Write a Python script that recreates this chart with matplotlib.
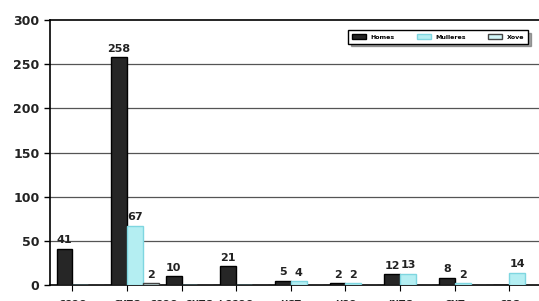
import numpy as np
import matplotlib
matplotlib.use("Agg")
import matplotlib.pyplot as plt

# groups along the x axis (labels are mostly cut off in the scan)
groups = ["CCOO", "CXTG", "CCOO+CXTG", "I.CCOO", "UGT", "USO", "INTG", "CNT", "CSG"]
homes = [41, 258, 10, 21, 5, 2, 12, 8, 0]
mulleres = [0, 67, 0, 0, 4, 2, 13, 2, 14]
xove = [0, 2, 0, 0, 0, 0, 0, 0, 0]
series_names = ["Homes", "Mulleres", "Xove"]
yticks = [0, 50, 100, 150, 200, 250, 300]

W = 0.29
colors = ["#262626", "#b4eef2", "#d2f5f7"]
edges = ["black", "#7fd6e0", "#444444"]

fig = plt.figure(figsize=(5.39, 3.01), dpi=100)
ax = fig.add_axes([50 / 539, 16 / 301, 550 / 539, 265 / 301])

x = np.arange(len(groups))
offsets = [-W / 2, W / 2, 3 * W / 2]
for vals, off, c, ec, name in zip([homes, mulleres, xove], offsets, colors, edges, series_names):
    bars = ax.bar(x + off, vals, W, color=c, edgecolor=ec, lw=1.0, label=name, zorder=3)
    for b, v in zip(bars, vals):
        if v > 0:
            ax.text(b.get_x() + b.get_width() / 2, v + 4, str(v), ha="center", va="bottom",
                    fontsize=8, fontweight="bold", color="#222222", zorder=4)

ax.set_ylim(0, 300)
ax.set_xlim(-0.41, 9.66)
ax.set_yticks(yticks)
ax.set_yticklabels([str(t) for t in yticks], fontsize=9, fontweight="bold", color="#222222")
ax.set_xticks(x)
ax.set_xticklabels(groups, fontsize=6.5, fontweight="bold", color="#222222")
ax.tick_params(axis="x", length=4, direction="out", pad=7)
ax.tick_params(axis="y", length=4, width=1)
for yv in yticks[1:-1]:
    ax.axhline(yv, color="#555555", lw=0.9, zorder=1)
for s in ["left", "top", "bottom"]:
    ax.spines[s].set_linewidth(1.2)
ax.spines["right"].set_visible(False)

leg = fig.legend(loc="upper right", bbox_to_anchor=(531 / 539, 1 - 27 / 301), ncol=3,
                 fontsize=4.5, frameon=True, fancybox=False, shadow=True,
                 handlelength=2.2, handleheight=1.0, columnspacing=3.5, borderpad=0.6,
                 prop={"weight": "bold", "size": 4.5})
leg.get_frame().set_edgecolor("black")
leg.get_frame().set_linewidth(1.0)

fig.savefig("out.png", dpi=100)
